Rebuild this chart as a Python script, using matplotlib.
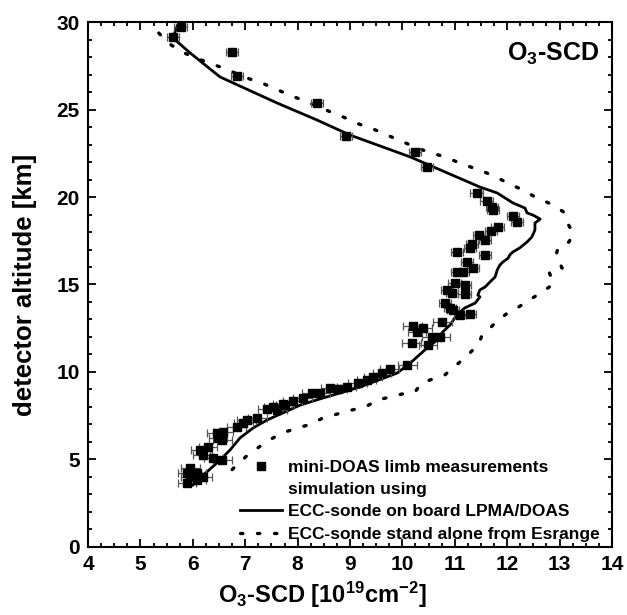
import matplotlib
matplotlib.use('Agg')
import matplotlib.pyplot as plt
from matplotlib.lines import Line2D
from matplotlib.ticker import MultipleLocator

FONT = ['Liberation Sans', 'DejaVu Sans']
plt.rcParams['font.family'] = FONT
plt.rcParams['font.weight'] = 'bold'
plt.rcParams['mathtext.fontset'] = 'custom'
plt.rcParams['mathtext.rm'] = 'Liberation Sans:bold'
plt.rcParams['mathtext.bf'] = 'Liberation Sans:bold'
plt.rcParams['mathtext.default'] = 'bf'

# mini-DOAS limb measurements (SCD in 1e19 cm^-2, altitude in km)
meas_scd = [5.77, 5.62, 6.75, 6.84, 8.37, 8.92, 10.24, 10.47, 11.42, 11.61,
            11.71, 11.73, 12.11, 12.19, 11.82, 11.69, 11.46, 11.58, 11.33, 11.29,
            11.04, 11.58, 11.23, 11.35, 11.16, 11.04, 11.00, 11.19, 10.85, 10.95,
            11.19, 10.81, 10.91, 10.97, 11.10, 11.29, 10.76, 10.20, 10.39, 10.28,
            10.56, 10.72, 10.18, 10.49, 10.09, 9.76, 9.61, 9.44, 9.32, 9.15,
            8.94, 8.77, 8.62, 8.43, 8.27, 8.10, 7.91, 7.72, 7.53, 7.42,
            7.76, 7.61, 7.23, 7.03, 6.96, 6.84, 6.58, 6.46, 6.48, 6.56,
            6.29, 6.14, 6.19, 6.39, 6.56, 5.95, 6.08, 5.89, 5.95, 6.08,
            5.89, 6.19]
meas_alt = [29.71, 29.14, 28.29, 26.91, 25.37, 23.49, 22.57, 21.71, 20.23, 19.77,
            19.43, 19.26, 18.91, 18.57, 18.29, 18.06, 17.83, 17.54, 17.31, 17.09,
            16.86, 16.69, 16.29, 15.94, 15.71, 15.71, 15.09, 14.97, 14.69, 14.51,
            14.46, 13.94, 13.66, 13.54, 13.26, 13.31, 12.86, 12.63, 12.51, 12.29,
            12.00, 12.00, 11.66, 11.54, 10.40, 10.17, 9.94, 9.71, 9.54, 9.37,
            9.14, 9.03, 9.09, 8.80, 8.80, 8.51, 8.34, 8.17, 8.00, 7.89,
            8.11, 7.83, 7.37, 7.26, 7.09, 6.86, 6.57, 6.51, 6.23, 6.11,
            5.71, 5.54, 5.26, 5.09, 4.97, 4.51, 4.23, 4.23, 4.00, 3.83,
            3.66, 4.00]
meas_err = [0.12] * 36 + [0.18] * 46

# simulation: ECC-sonde on board LPMA/DOAS
sonde_scd = [5.70, 5.62, 5.95, 6.52, 7.61, 8.37, 9.00, 10.15, 11.48, 11.81,
             12.11, 12.34, 12.38, 12.49, 12.63, 12.53, 12.53, 12.47, 12.38, 12.24,
             12.11, 12.05, 12.02, 11.92, 11.86, 11.81, 11.77, 11.67, 11.58, 11.48,
             11.44, 11.48, 11.39, 11.19, 11.04, 10.91, 10.77, 10.66, 10.47, 10.28,
             10.15, 9.90, 9.19, 8.81, 8.48, 8.05, 7.80, 7.42, 7.15, 6.90,
             6.71, 6.52, 6.27, 6.14, 6.00]
sonde_alt = [29.77, 29.09, 28.23, 26.86, 25.37, 24.40, 23.54, 22.29, 20.57, 20.23,
             19.66, 19.37, 19.09, 18.97, 18.74, 18.51, 18.11, 17.71, 17.43, 17.09,
             16.86, 16.69, 16.51, 16.29, 16.11, 15.83, 15.43, 15.14, 14.86, 14.69,
             14.40, 14.29, 13.94, 13.66, 13.26, 12.69, 12.29, 11.83, 11.37, 10.86,
             10.51, 9.94, 9.14, 8.80, 8.51, 8.11, 7.77, 7.26, 6.80, 6.23,
             5.54, 4.97, 4.29, 4.00, 3.54]

# simulation: ECC-sonde stand alone from Esrange
esr_scd = [5.35, 5.53, 5.79, 6.04, 6.31, 6.58, 7.09, 7.36, 7.63, 7.89,
           8.14, 8.41, 8.68, 8.92, 9.17, 9.44, 9.71, 9.97, 10.24, 10.49,
           10.76, 11.00, 11.25, 11.52, 11.79, 12.05, 12.30, 12.57, 12.84, 13.08,
           13.16, 13.26, 13.18, 12.97, 12.93, 13.05, 12.80, 12.89, 12.66, 12.40,
           12.19, 11.98, 11.75, 11.60, 11.52, 11.46, 11.21, 10.81, 10.58, 10.37,
           10.24, 9.99, 9.76, 9.53, 9.29, 9.04, 8.48, 8.27, 8.00, 7.76,
           7.53, 7.32, 7.05, 6.84, 6.61]
esr_alt = [29.37, 28.80, 28.29, 27.97, 27.66, 27.37, 26.74, 26.46, 26.11, 25.77,
           25.49, 25.14, 24.80, 24.51, 24.17, 23.89, 23.54, 23.20, 22.86, 22.57,
           22.34, 22.06, 21.77, 21.49, 21.14, 20.74, 20.40, 19.94, 19.60, 19.14,
           18.46, 17.94, 17.43, 17.09, 16.63, 15.94, 15.71, 15.03, 14.57, 14.06,
           13.66, 13.31, 12.74, 12.29, 12.11, 11.60, 10.86, 9.83, 9.60, 9.37,
           8.86, 8.74, 8.57, 8.40, 8.00, 7.83, 7.37, 7.03, 6.80, 6.57,
           6.23, 5.83, 5.26, 4.69, 4.00]

DOTS = (0, (0.7, 4.4))

fig = plt.figure(figsize=(6.27, 6.15), dpi=100)
ax = fig.add_axes([0.1404, 0.1106, 0.8356, 0.8536])

ax.plot(esr_scd, esr_alt, color='black', lw=2.4, linestyle=DOTS,
        dash_capstyle='round', zorder=2)
ax.plot(sonde_scd, sonde_alt, color='black', lw=2.0, zorder=3)
ax.errorbar(meas_scd, meas_alt, xerr=meas_err, fmt='s', color='black',
            ms=6, ecolor='#555555', elinewidth=0.9, capsize=3, capthick=0.9,
            zorder=4)

ax.set_xlim(4, 14)
ax.set_ylim(0, 30)
ax.xaxis.set_major_locator(MultipleLocator(1))
ax.xaxis.set_minor_locator(MultipleLocator(0.25))
ax.yaxis.set_major_locator(MultipleLocator(5))
ax.yaxis.set_minor_locator(MultipleLocator(1))
ax.tick_params(which='both', direction='in', top=True, right=True, width=1.3)
ax.tick_params(which='major', length=6, labelsize=15, pad=6)
ax.tick_params(which='minor', length=3)
for lab in ax.get_xticklabels() + ax.get_yticklabels():
    lab.set_fontweight('bold')
for sp in ax.spines.values():
    sp.set_linewidth(1.5)

ax.set_xlabel('O$_3$-SCD [10$^{19}$cm$^{-2}$]', fontsize=17, fontweight='bold', labelpad=0)
ax.xaxis.set_label_coords(0.447, -0.062)
ax.set_ylabel('detector altitude [km]', fontsize=18.5, fontweight='bold', labelpad=14)
ax.text(0.975, 0.965, 'O$_3$-SCD', transform=ax.transAxes, ha='right', va='top',
        fontsize=18, fontweight='bold')

handles = [
    Line2D([], [], marker='s', color='black', ls='none', ms=6),
    Line2D([], [], ls='none'),
    Line2D([], [], color='black', lw=2.0),
    Line2D([], [], color='black', lw=2.4, ls=DOTS, dash_capstyle='round'),
]
labels = ['mini-DOAS limb measurements', 'simulation using',
          'ECC-sonde on board LPMA/DOAS', 'ECC-sonde stand alone from Esrange']
ax.legend(handles, labels, loc='lower right', bbox_to_anchor=(0.983, 0.003),
          frameon=False, handlelength=2.4, handletextpad=0.35, labelspacing=0.42,
          borderaxespad=0.0, borderpad=0.2,
          prop={'weight': 'bold', 'size': 12.5, 'family': FONT})

fig.savefig('out.png', dpi=100)
